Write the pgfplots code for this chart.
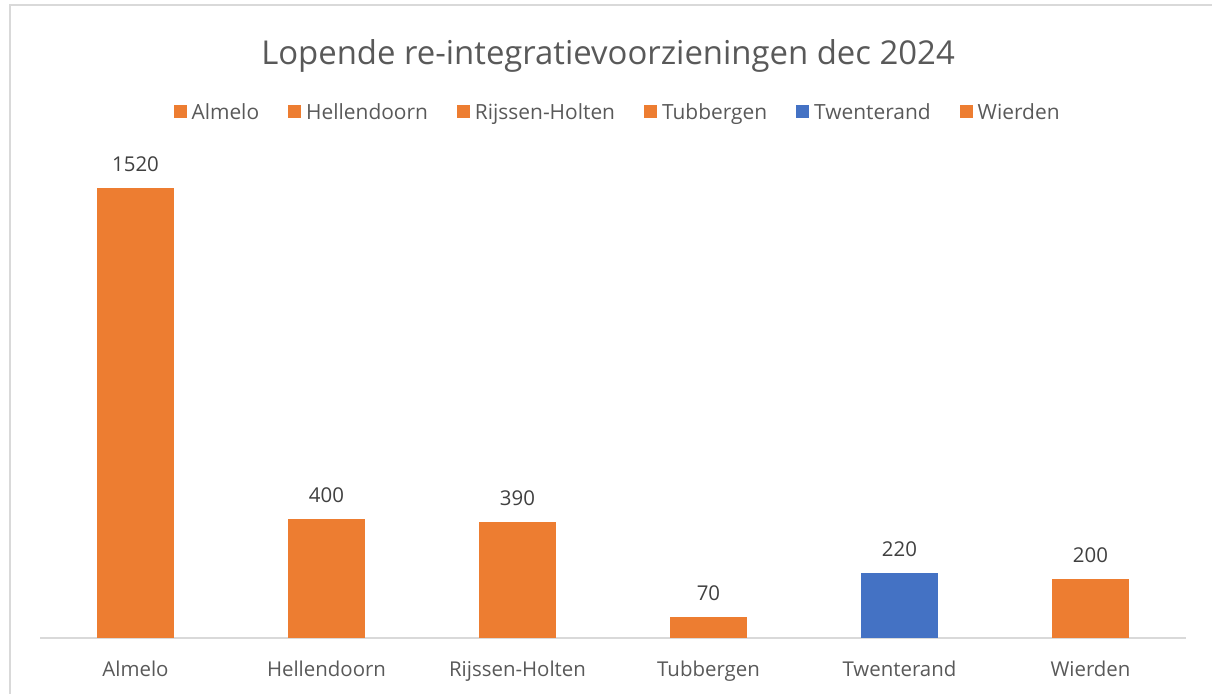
\documentclass[border=0pt]{standalone}
\usepackage{pgfplots}
\pgfplotsset{compat=1.18}
\usepackage{fontspec}
\setmainfont{Open Sans}
\definecolor{xlorange}{HTML}{ED7D31}
\definecolor{xlblue}{HTML}{4472C4}
\definecolor{xlgrey}{HTML}{595959}
\definecolor{xldark}{HTML}{404040}
\definecolor{xlline}{HTML}{D9D9D9}
\begin{document}
\begin{tikzpicture}
\begin{axis}[
    scale only axis,
    width=1146bp, height=474bp,
    xmin=-0.5, xmax=5.5,
    ymin=0, ymax=1600,
    ybar, bar width=77bp, bar shift=0pt,
    axis y line=none,
    axis x line*=bottom,
    x axis line style={draw=xlline, line width=1.5bp, -},
    xtick={0,1,2,3,4,5},
    xticklabels={Almelo,Hellendoorn,Rijssen-Holten,Tubbergen,Twenterand,Wierden},
    xtick style={draw=none},
    xticklabel style={font=\fontsize{20.5}{24}\selectfont, text=xlgrey, yshift=-15bp},
    clip=false,
    nodes near coords,
    /pgf/number format/assume math mode=true,
    /pgf/number format/1000 sep={},
    every node near coord/.append style={font=\fontsize{20.5}{24}\selectfont, text=xldark, anchor=center, yshift=24bp},
    legend columns=6,
    legend style={draw=none, fill=none, at={(0.504,1.110)}, anchor=center,
        font=\fontsize{21}{25}\selectfont, text=xlgrey,
        /tikz/every even column/.append style={column sep=27bp}},
    legend image code/.code={\fill[#1] (0bp,-6.5bp) rectangle (13bp,6.5bp); \path (16bp,0bp);},
]
\addplot[fill=xlorange, draw=none] coordinates {(0,1520)};
\addlegendentry{Almelo}
\addplot[fill=xlorange, draw=none] coordinates {(1,400)};
\addlegendentry{Hellendoorn}
\addplot[fill=xlorange, draw=none] coordinates {(2,390)};
\addlegendentry{Rijssen-Holten}
\addplot[fill=xlorange, draw=none] coordinates {(3,70)};
\addlegendentry{Tubbergen}
\addplot[fill=xlblue, draw=none] coordinates {(4,220)};
\addlegendentry{Twenterand}
\addplot[fill=xlorange, draw=none] coordinates {(5,200)};
\addlegendentry{Wierden}
\end{axis}
\coordinate (O) at (current axis.south west);
\path[use as bounding box] ([shift={(-40bp,-56bp)}]O) rectangle ([shift={(1172bp,638bp)}]O);
\draw[xlline, line width=2bp] ([shift={(-30bp,-60bp)}]O) -- ([shift={(-30bp,633bp)}]O) -- ([shift={(1180bp,633bp)}]O);
\node[text=xlgrey, font=\fontsize{33}{38}\selectfont] at ([shift={(568bp,582bp)}]O) {Lopende re-integratievoorzieningen dec 2024};
\end{tikzpicture}
\end{document}
